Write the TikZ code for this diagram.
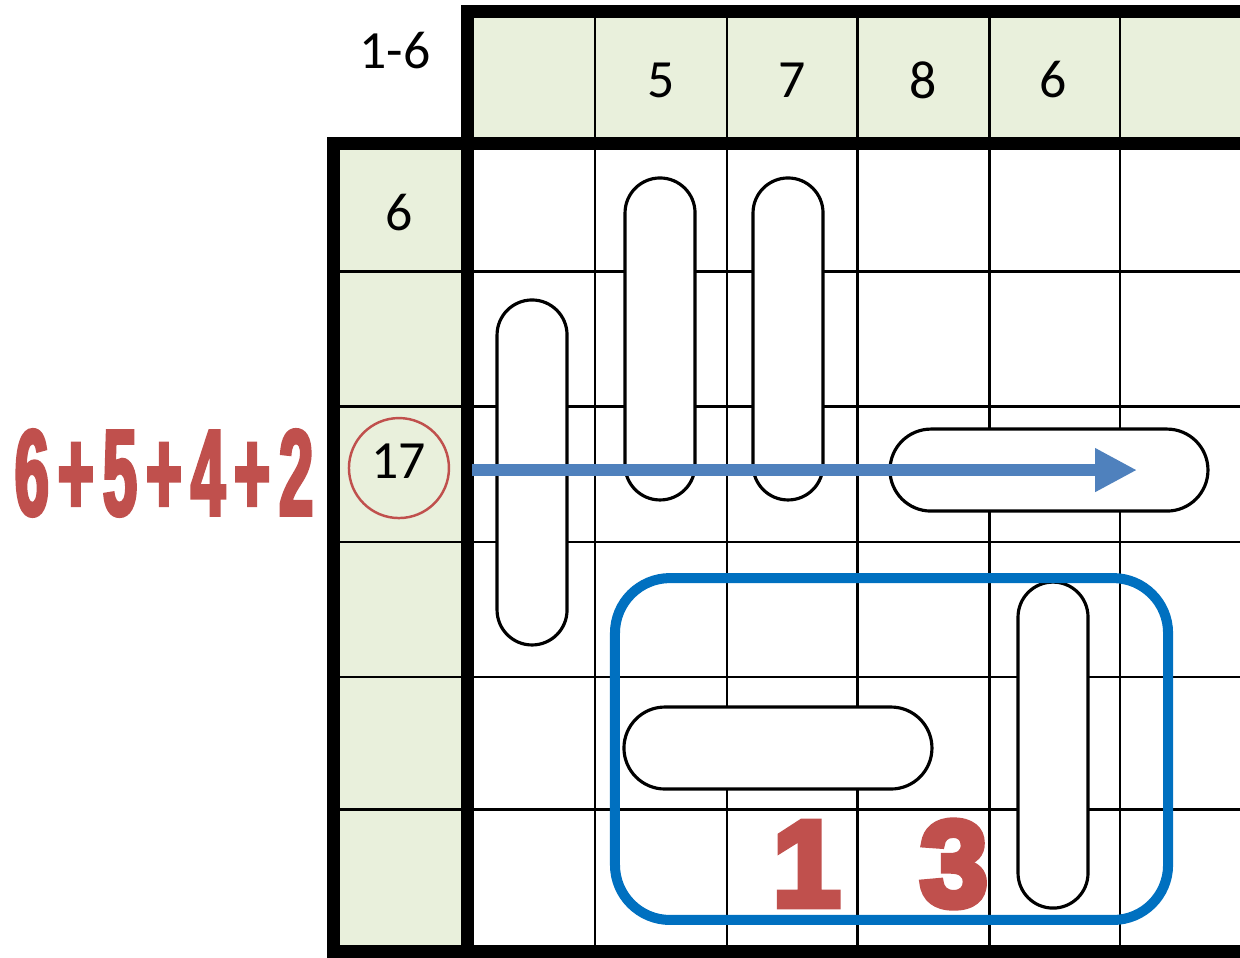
\documentclass[tikz,border=0pt]{standalone}
\usepackage{fontspec}
\setmainfont{Carlito}
\newfontfamily\sumfont[FakeStretch=0.5,FakeBold=2.5]{Liberation Sans Bold}
\newfontfamily\bigfont[FakeBold=6]{Liberation Sans Bold}
\usetikzlibrary{arrows.meta}
\definecolor{cluegreen}{HTML}{E9F0DC}
\definecolor{hintred}{HTML}{C0504D}
\definecolor{runblue}{HTML}{4F81BD}
\definecolor{boxblue}{HTML}{0070C0}
\tikzset{
  gridline/.style={draw=black,line width=0.7pt},
  thickframe/.style={draw=black,line width=3.7pt},
  vbar/.style={draw,fill=white,line width=0.9pt,rounded corners=3.5mm,
               minimum width=7mm,inner sep=0pt},
  hbar/.style={draw,fill=white,line width=0.9pt,rounded corners=4.1mm,
               minimum height=8.2mm,inner sep=0pt},
  clue/.style={inner sep=0pt,font=\fontsize{15.3}{18}\selectfont},
  ring/.style={circle,draw=hintred,line width=0.7pt,minimum size=10mm,inner sep=0pt},
  hint/.style={inner sep=0pt,text=hintred},
  arrow/.style={-{Triangle[length=4.2mm,width=4.1mm]},line width=3.3pt,draw=runblue},
  zone/.style={draw=boxblue,line width=2.85pt,rounded corners=5.5mm}
}
\newcommand{\gap}{\hspace{0.9mm}}
\begin{document}
\begin{tikzpicture}[x=1.306cm,y=-1.335cm]
  \useasboundingbox (-3.5758,-1.0749) rectangle (5.9188,6.0936);
  \clip (-3.5758,-1.0749) rectangle (5.9188,6.0936);
  % clue cells
  \fill[cluegreen] (-1.026,0) rectangle (0,6.1);
  \fill[cluegreen] (0,-0.99) rectangle (6.2,0);
  \foreach \x in {0.98,1.99,2.99,4.0,5.0}
    \draw[gridline] (\x,-0.99) -- (\x,6.1);
  \foreach \y in {0.96,1.97,2.985,3.996,4.99}
    \draw[gridline] (-1.026,\y) -- (6.2,\y);
  \draw[thickframe] (6.2,-0.99) -- (0,-0.99) -- (0,6.05);
  \draw[thickframe] (6.2,0) -- (-1.026,0) -- (-1.026,6.05) -- (6.2,6.05);

  % placed bars
  \node[vbar,minimum height=34.5mm] (b1) at (0.498,2.464) {};
  \node[vbar,minimum height=32.2mm] (b2) at (1.478,1.464) {};
  \node[vbar,minimum height=32.2mm] (b3) at (2.458,1.464) {};
  \node[hbar,minimum width=31.8mm] (b4) at (4.456,2.446) {};
  \node[hbar,minimum width=30.8mm] (b5) at (2.381,4.528) {};
  \node[vbar,minimum height=32.6mm] (b6) at (4.487,4.506) {};
  \draw[zone] (1.133,3.255) rectangle (5.368,5.816);

  % clues
  \node[clue] (range) at (-0.551,-0.693) {1-6};
  \foreach \n [count=\i] in {5,7,8,6}
    \node[clue] (top\i) at (\i+0.49,-0.476) {\n};
  \node[clue] (left1) at (-0.521,0.52) {6};
  \node[ring] (sum) at (-0.521,2.431) {};
  \node[clue] (total) at (-0.521,2.378) {17};
  \node[hint,font=\sumfont\fontsize{35}{40}\selectfont] (parts) at (-2.32,2.468)
    {6\gap+\gap5\gap+\gap4\gap+\gap2};
  \node[hint,font=\bigfont\fontsize{34.5}{40}\selectfont] (rest) at (3.165,5.397)
    {1\hspace{8mm}3};

  \coordinate (go) at (0.04,2.446);
  \coordinate (stop) at (5.13,2.446);
  \draw[arrow] (go) -- (stop);
\end{tikzpicture}
\end{document}
